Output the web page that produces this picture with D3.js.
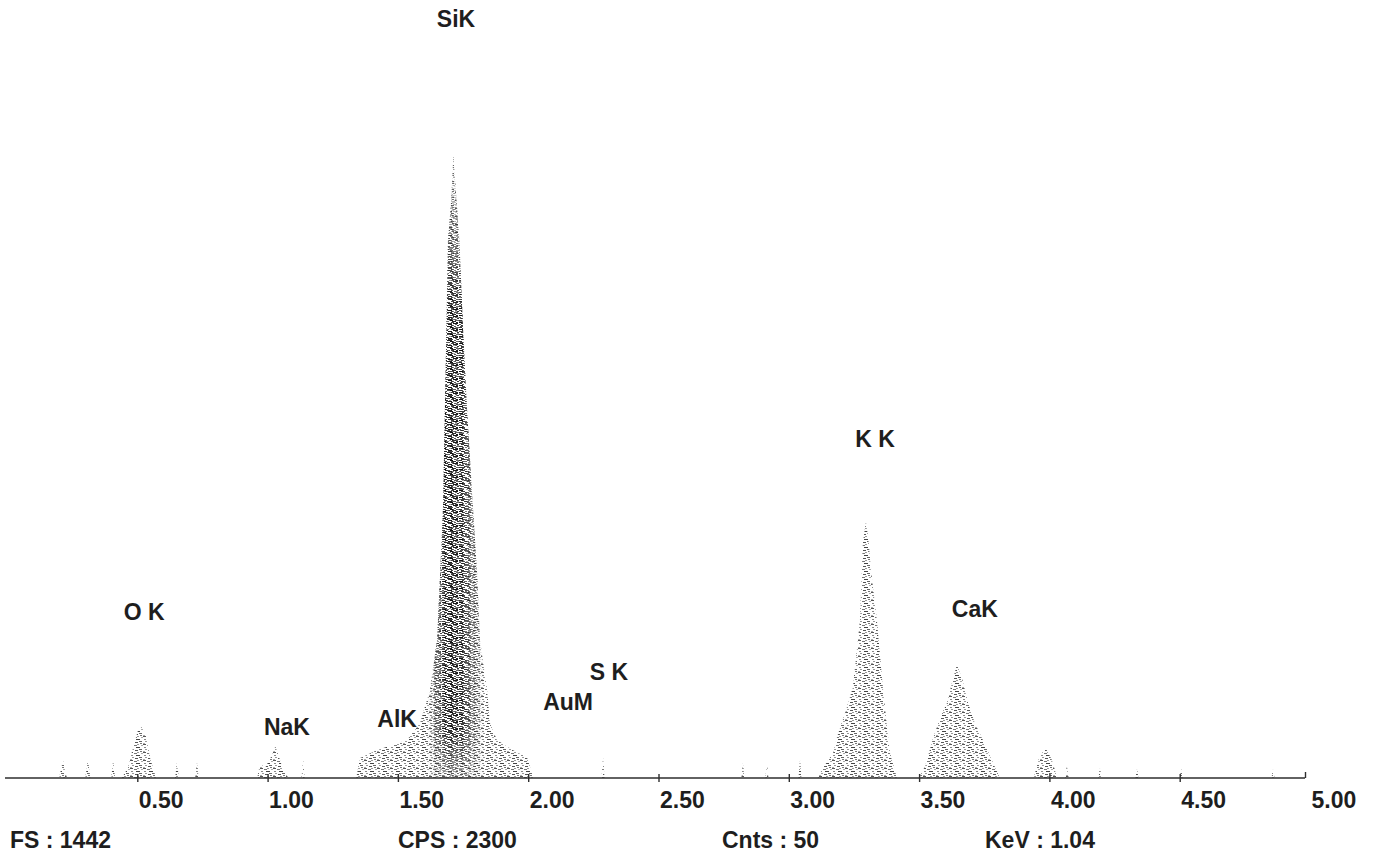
<!DOCTYPE html>
<html>
<head>
<meta charset="utf-8">
<script src="https://cdn.jsdelivr.net/npm/d3@7"></script>
<style>
  html, body { margin: 0; padding: 0; background: #fff; }
  svg { display: block; }
  text { font-family: "Liberation Sans", Arial, sans-serif; font-weight: bold; fill: #1e1e1e; }
</style>
</head>
<body>
<svg id="chart" width="1375" height="860"></svg>
<script>
// ---- data (energy in keV, counts) ----
const energyKeV = [
  0.00, 0.20, 0.215, 0.23, 0.30, 0.311, 0.32, 0.40, 0.407, 0.415,
  0.44, 0.464, 0.483, 0.503, 0.518, 0.533, 0.549, 0.572,
  0.645, 0.652, 0.66, 0.722, 0.729, 0.736,
  0.96, 0.971, 0.99, 1.015, 1.03, 1.045, 1.06, 1.08,
  1.13, 1.136, 1.142,
  1.340, 1.355, 1.42, 1.48, 1.535, 1.585, 1.623, 1.650, 1.662, 1.673, 1.684, 1.692,
  1.705, 1.713, 1.722, 1.736, 1.750, 1.765, 1.788, 1.804, 1.815, 1.842, 1.853, 1.880,
  1.94, 1.995, 2.02,
  2.281, 2.287, 2.293, 2.818, 2.824, 2.830, 2.910, 2.916, 2.922, 3.037, 3.043, 3.049,
  3.11, 3.131, 3.170, 3.185, 3.216, 3.246, 3.273, 3.284, 3.296, 3.305, 3.319, 3.338,
  3.361, 3.381, 3.388, 3.415,
  3.50, 3.523, 3.554, 3.580, 3.607, 3.630, 3.645, 3.665, 3.688, 3.714, 3.741, 3.784,
  3.810, 3.94, 3.96, 3.985, 4.01, 4.03,
  4.06, 4.067, 4.074, 4.188, 4.194, 4.200, 4.330, 4.336, 4.342, 4.500, 4.506, 4.512,
  4.852, 4.858, 4.864, 5.00
];
const counts = [
  0, 0, 36, 0, 0, 36, 0, 0, 34, 0,
  0, 20, 60, 96, 102, 84, 40, 0,
  0, 30, 0, 0, 32, 0,
  0, 30, 20, 44, 64, 40, 16, 0,
  0, 40, 0,
  0, 40, 56, 66, 76, 110, 176, 276, 410, 542, 840, 1076,
  1160, 1250, 1180, 1076, 900, 742, 542, 410, 276, 176, 110, 76,
  56, 42, 0,
  0, 42, 0, 0, 30, 0, 0, 30, 0, 0, 36, 0,
  0, 20, 50, 82, 130, 182, 316, 472, 512, 480, 400, 316,
  182, 82, 50, 0,
  0, 24, 80, 120, 150, 200, 226, 200, 150, 110, 80, 30,
  0, 0, 40, 60, 36, 0,
  0, 24, 0, 0, 20, 0, 0, 18, 0, 0, 20, 0,
  0, 18, 0, 0
];

const tickValues = [0.5, 1.0, 1.5, 2.0, 2.5, 3.0, 3.5, 4.0, 4.5, 5.0];
const tickLabels = ["0.50", "1.00", "1.50", "2.00", "2.50", "3.00", "3.50", "4.00", "4.50", "5.00"];

const peakNames  = ["SiK", "K K", "O K", "CaK", "NaK", "AlK", "AuM", "S K"];
const peakKeV    = [1.723, 3.331, 0.526, 3.714, 1.074, 1.497, 2.153, 2.310];
const peakLabelCounts = [1504, 663, 316, 322, 86, 102, 136, 196];

const footerTexts = ["FS : 1442", "CPS : 2300", "Cnts : 50", "KeV : 1.04"];
const fullScale = 1442;

// ---- drawing ----
const svg = d3.select("#chart");
const x = d3.scaleLinear().domain([0, 5]).range([7, 1310]);
const y = d3.scaleLinear().domain([0, fullScale]).range([778, 58]);

const defs = svg.append("defs");

function makePattern(id, w, h, dashes) {
  const p = defs.append("pattern")
    .attr("id", id).attr("patternUnits", "userSpaceOnUse")
    .attr("width", w).attr("height", h);
  p.selectAll("rect").data(dashes).join("rect")
    .attr("x", d => d[0]).attr("y", d => d[1])
    .attr("width", d => d[2]).attr("height", d => d[3])
    .attr("fill", d => d[4]);
}

// light speckle (scanned, dithered look)
makePattern("speckleLight", 13, 8, [
  [0, 0, 3, 1, "#555"], [7, 0, 2, 1, "#999"],
  [4, 1, 3, 1, "#777"], [11, 1, 2, 1, "#aaa"],
  [1, 3, 2, 1, "#888"], [6, 3, 4, 1, "#444"],
  [9, 5, 3, 1, "#666"], [2, 5, 2, 1, "#999"],
  [5, 6, 3, 1, "#555"], [0, 7, 2, 1, "#aaa"], [10, 7, 2, 1, "#777"]
]);

// dark speckle for the dense core of the main peak (irregular tile)
makePattern("speckleDark", 17, 7, [
  [0, 0, 4, 1, "#111"], [9, 0, 3, 1, "#444"], [14, 0, 2, 1, "#222"],
  [3, 1, 3, 1, "#333"], [11, 1, 5, 1, "#1a1a1a"],
  [0, 2, 2, 1, "#555"], [6, 2, 4, 1, "#1a1a1a"], [13, 2, 2, 1, "#666"],
  [2, 3, 3, 1, "#2a2a2a"], [9, 3, 2, 1, "#444"], [15, 3, 2, 1, "#333"],
  [5, 4, 5, 1, "#222"], [12, 4, 2, 1, "#555"],
  [0, 5, 3, 1, "#333"], [8, 5, 3, 1, "#111"], [14, 5, 3, 1, "#666"],
  [3, 6, 2, 1, "#444"], [10, 6, 4, 1, "#2a2a2a"]
]);

// soft horizontal and vertical fades for the dark core
const gh = defs.append("linearGradient").attr("id", "fadeH")
  .attr("x1", 0).attr("x2", 1).attr("y1", 0).attr("y2", 0);
[[0, "#000"], [0.3, "#fff"], [0.6, "#fff"], [1, "#000"]].forEach(s =>
  gh.append("stop").attr("offset", s[0]).attr("stop-color", s[1]));
const gv = defs.append("linearGradient").attr("id", "fadeV")
  .attr("x1", 0).attr("x2", 0).attr("y1", 0).attr("y2", 1);
[[0, "#000"], [0.25, "#fff"], [0.92, "#fff"], [1, "#555"]].forEach(s =>
  gv.append("stop").attr("offset", s[0]).attr("stop-color", s[1]));

const mH = defs.append("mask").attr("id", "maskH").attr("maskUnits", "userSpaceOnUse")
  .attr("x", 0).attr("y", 0).attr("width", 1375).attr("height", 860);
mH.append("rect")
  .attr("x", x(1.615)).attr("width", x(1.83) - x(1.615))
  .attr("y", 0).attr("height", 860).attr("fill", "url(#fadeH)");
const mV = defs.append("mask").attr("id", "maskV").attr("maskUnits", "userSpaceOnUse")
  .attr("x", 0).attr("y", 0).attr("width", 1375).attr("height", 860);
mV.append("rect")
  .attr("x", 0).attr("width", 1375)
  .attr("y", y(1250)).attr("height", y(0) - y(1250)).attr("fill", "url(#fadeV)");

const spectrum = energyKeV.map((e, i) => ({ e, c: counts[i] }));

const area = d3.area()
  .x(d => x(d.e))
  .y0(y(0))
  .y1(d => y(d.c))
  .curve(d3.curveLinear);

svg.append("path")
  .datum(spectrum)
  .attr("d", area)
  .attr("fill", "url(#speckleLight)");

svg.append("g").attr("mask", "url(#maskV)")
  .append("path")
  .datum(spectrum)
  .attr("d", area)
  .attr("mask", "url(#maskH)")
  .attr("fill", "url(#speckleDark)");

// axis
const axis = d3.axisBottom(x)
  .tickValues(tickValues)
  .tickFormat((d, i) => tickLabels[i])
  .tickSizeInner(4)
  .tickSizeOuter(0);

const gAxis = svg.append("g")
  .attr("transform", `translate(0,${y(0)})`)
  .call(axis);

gAxis.select(".domain")
  .attr("d", `M${x(0) - 2},0H${x(5) - 5}`)
  .attr("stroke", "#2e2e2e").attr("stroke-width", 1.4);
gAxis.selectAll(".tick line")
  .attr("y1", -4).attr("y2", 4)
  .attr("stroke", "#2e2e2e").attr("stroke-width", 1.4);
gAxis.selectAll(".tick")
  .filter(d => d === 5)
  .select("line").attr("transform", "translate(-5,0)").attr("y1", -6).attr("y2", 0);
gAxis.selectAll(".tick text")
  .attr("text-anchor", "start")
  .attr("x", 1)
  .attr("y", 30)
  .attr("dy", 0)
  .attr("font-size", 23)
  .attr("font-family", "Liberation Sans, Arial, sans-serif")
  .attr("font-weight", "bold")
  .attr("fill", "#1e1e1e");

// peak labels
svg.append("g").selectAll("text")
  .data(peakNames)
  .join("text")
  .attr("x", (d, i) => x(peakKeV[i]))
  .attr("y", (d, i) => y(peakLabelCounts[i]))
  .attr("text-anchor", "middle")
  .attr("font-size", 23)
  .text(d => d);

// footer line
const footerX = [10, 398, 722, 985];
svg.append("g").selectAll("text")
  .data(footerTexts)
  .join("text")
  .attr("x", (d, i) => footerX[i])
  .attr("y", 848)
  .attr("font-size", 23)
  .text(d => d);
</script>
</body>
</html>
